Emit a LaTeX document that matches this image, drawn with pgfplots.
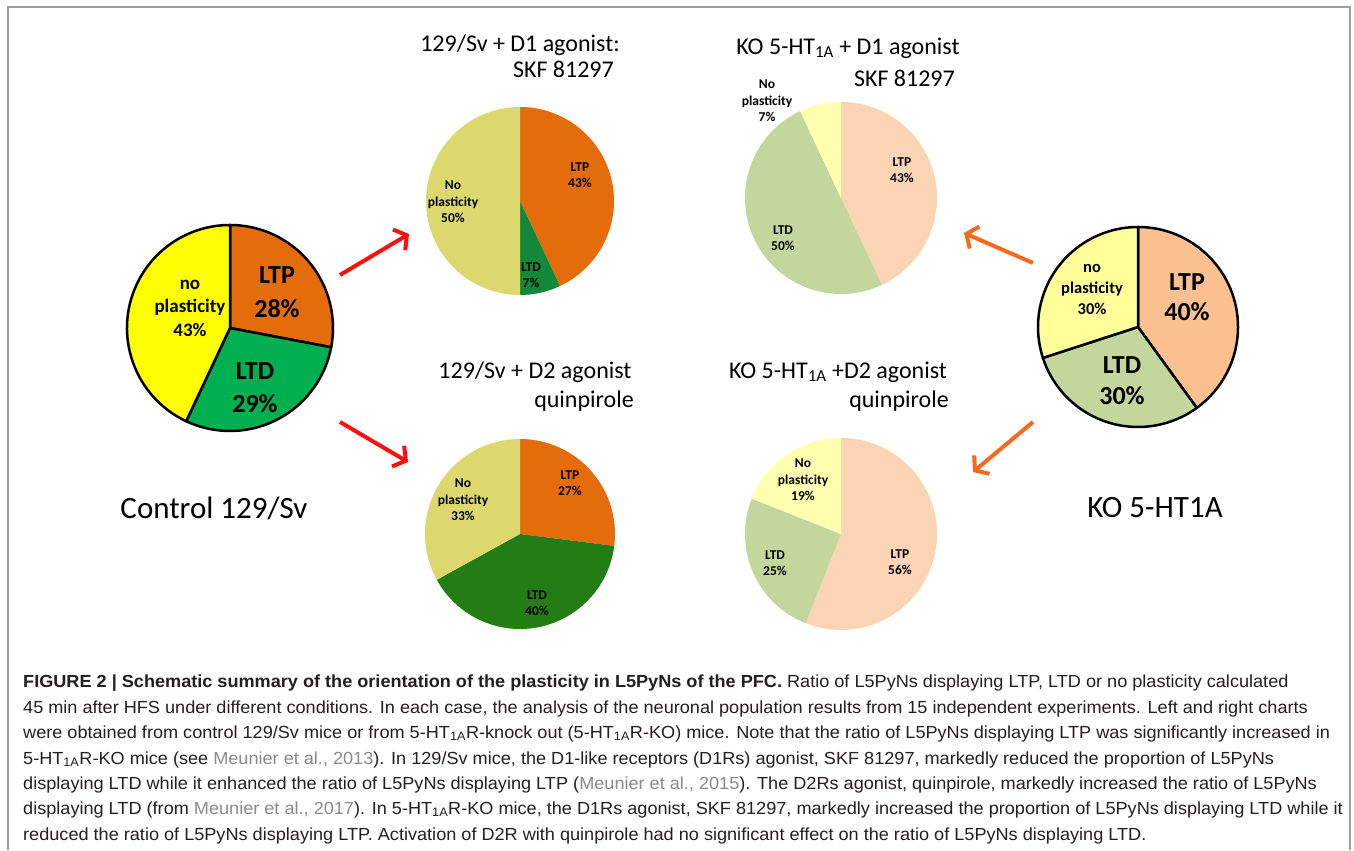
\documentclass[border=0pt]{standalone}
\usepackage{fontspec}
\setmainfont{Carlito}
\newfontfamily\capfont[FakeStretch=1.035]{Liberation Sans}
\usepackage{pgfplots}
\pgfplotsset{compat=1.18}
\usepackage{pgfplotstable}
\usetikzlibrary{arrows.meta}

\definecolor{cLTP}{HTML}{E46C0A}
\definecolor{cLTD}{HTML}{00B050}
\definecolor{cNO}{HTML}{FFFF00}
\definecolor{dLTDa}{HTML}{14883A}
\definecolor{dLTDb}{HTML}{237C14}
\definecolor{dNO}{HTML}{DCD86E}
\definecolor{kLTP}{HTML}{FAC090}
\definecolor{kLTD}{HTML}{C3D69B}
\definecolor{kNO}{HTML}{FFFF99}
\definecolor{kLTPb}{HTML}{FBD4B4}
\definecolor{kNOb}{HTML}{FFFFAF}
\definecolor{redarrow}{HTML}{FF1010}
\definecolor{orarrow}{HTML}{F76A1E}
\definecolor{cite}{HTML}{8A8A8A}
\definecolor{captext}{HTML}{231F20}

% pie data: share in %, colour; slices clockwise from 12 o'clock
\pgfplotstableread{
val col
28 cLTP
29 cLTD
43 cNO
}\tabCtrl
\pgfplotstableread{
val col
43 cLTP
7 dLTDa
50 dNO
}\tabDone
\pgfplotstableread{
val col
27 cLTP
40 dLTDb
33 dNO
}\tabDtwo
\pgfplotstableread{
val col
40 kLTP
30 kLTD
30 kNO
}\tabKO
\pgfplotstableread{
val col
43 kLTPb
50 kLTD
7 kNOb
}\tabKOone
\pgfplotstableread{
val col
56 kLTPb
25 kLTD
19 kNOb
}\tabKOtwo

\newcommand\drawpie[3]{%
  \pgfplotstablegetrowsof{#1}%
  \pgfmathtruncatemacro\pienrows{\pgfplotsretval-1}%
  \def\piecum{0}%
  \pgfplotsforeachungrouped \pieidx in {0,...,\pienrows}{%
    \pgfplotstablegetelem{\pieidx}{val}\of{#1}\let\pieval\pgfplotsretval
    \pgfplotstablegetelem{\pieidx}{col}\of{#1}\let\piecol\pgfplotsretval
    \pgfmathsetmacro\piea{90-3.6*\piecum}%
    \pgfmathsetmacro\pieb{90-3.6*(\piecum+\pieval)}%
    \edef\pietmp{\noexpand\filldraw[fill=\piecol,#3] (axis cs:0,0) -- ++(\piea:#2pt) arc[start angle=\piea,end angle=\pieb,radius=#2pt] -- cycle;}%
    \pietmp
    \pgfmathsetmacro\piecum{\piecum+\pieval}%
  }%
}
\pgfplotsset{pie/.style={scale only axis, hide axis, xmin=-1, xmax=1, ymin=-1, ymax=1, anchor=origin, clip=false}}

\begin{document}
\begin{tikzpicture}[x=1pt,y=1pt]
\fill[white] (0,0) rectangle (1354,850);
\draw[gray!75, line width=1.5pt] (8,0) -- (8,843) -- (1350,843) -- (1350,0);

% pies
\begin{axis}[pie, at={(230pt,522pt)}, width=206pt, height=206pt]
\drawpie{\tabCtrl}{103}{draw=black, line width=2.5pt, line join=round}
\end{axis}
\begin{axis}[pie, at={(520pt,649pt)}, width=188pt, height=188pt]
\drawpie{\tabDone}{94}{draw=none}
\end{axis}
\begin{axis}[pie, at={(520pt,316pt)}, width=190pt, height=190pt]
\drawpie{\tabDtwo}{95}{draw=none}
\end{axis}
\begin{axis}[pie, at={(841pt,652pt)}, width=192pt, height=192pt]
\drawpie{\tabKOone}{96}{draw=none}
\end{axis}
\begin{axis}[pie, at={(841pt,316pt)}, width=192pt, height=192pt]
\drawpie{\tabKOtwo}{96}{draw=none}
\end{axis}
\begin{axis}[pie, at={(1138pt,523pt)}, width=200pt, height=200pt]
\drawpie{\tabKO}{100}{draw=black, line width=2.5pt, line join=round}
\end{axis}

% pie labels
\begin{scope}[every node/.style={align=center, inner sep=0pt, font=\bfseries}]
\node[font=\bfseries\fontsize{26}{34}\selectfont] at (277,558) {LTP\\28\%};
\node[font=\bfseries\fontsize{26}{33}\selectfont] at (255,462) {LTD\\29\%};
\node[font=\bfseries\fontsize{19}{23.5}\selectfont] at (190,542) {no\\plasticity\\43\%};
\node[font=\bfseries\fontsize{26}{30}\selectfont] at (1187,553) {LTP\\40\%};
\node[font=\bfseries\fontsize{26}{31}\selectfont] at (1122,469) {LTD\\30\%};
\node[font=\bfseries\fontsize{16.5}{21}\selectfont] at (1092,560) {no\\plasticity\\30\%};
\begin{scope}[every node/.append style={font=\bfseries\fontsize{13.5}{16.5}\selectfont}]
\node at (453,648) {No\\plasticity\\50\%};
\node at (580,675) {LTP\\43\%};
\node at (531,575) {LTD\\7\%};
\node at (767,749) {No\\plasticity\\7\%};
\node at (902,680) {LTP\\43\%};
\node at (783,612) {LTD\\50\%};
\node at (463,350) {No\\plasticity\\33\%};
\node at (570,367) {LTP\\27\%};
\node at (537,247) {LTD\\40\%};
\node at (803,370) {No\\plasticity\\19\%};
\node at (775,287) {LTD\\25\%};
\node at (900,288) {LTP\\56\%};
\end{scope}
\end{scope}

% titles
\begin{scope}[every node/.style={inner sep=0pt, font=\fontsize{24}{28}\selectfont}]
\node[anchor=center] at (520,805) {129/Sv + D1 agonist:};
\node[anchor=east] at (614,781) {SKF 81297};
\node[anchor=center] at (848,802) {KO 5-HT\textsubscript{1A} + D1 agonist};
\node[anchor=east] at (955,772) {SKF 81297};
\node[anchor=center] at (535,478) {129/Sv + D2 agonist};
\node[anchor=east] at (634,449) {quinpirole};
\node[anchor=center] at (838,478) {KO 5-HT\textsubscript{1A} +D2 agonist};
\node[anchor=east] at (949,449) {quinpirole};
\end{scope}
\node[inner sep=0pt, font=\fontsize{31}{36}\selectfont] at (214,342) {Control 129/Sv};
\node[inner sep=0pt, font=\fontsize{31}{36}\selectfont] at (1155,342) {KO 5-HT1A};

% arrows
\draw[redarrow, line width=4pt, -{Straight Barb[length=9pt,width=24pt]}] (340,575) -- (409,616);
\draw[redarrow, line width=4pt, -{Straight Barb[length=9pt,width=24pt]}] (340,428) -- (408,388);
\draw[orarrow, line width=4pt, -{Straight Barb[length=9pt,width=24pt]}] (1033,587) -- (964,617);
\draw[orarrow, line width=4pt, -{Straight Barb[length=9pt,width=24pt]}] (1033,428) -- (973,378);

% caption
\begin{scope}[every node/.style={anchor=mid west, inner sep=0pt, text=captext, font=\capfont\fontsize{17.5}{20}\selectfont}]
\node at (23,165) {\textbf{FIGURE 2 | Schematic summary of the orientation of the plasticity in L5PyNs of the PFC.} Ratio of L5PyNs displaying LTP, LTD or no plasticity calculated};
\node at (23,139) {45 min after HFS under different conditions. In each case, the analysis of the neuronal population results from 15 independent experiments. Left and right charts};
\node at (23,114) {were obtained from control 129/Sv mice or from 5-HT\textsubscript{1A}R-knock out (5-HT\textsubscript{1A}R-KO) mice. Note that the ratio of L5PyNs displaying LTP was significantly increased in};
\node at (23,88) {5-HT\textsubscript{1A}R-KO mice (see {\color{cite}Meunier et al., 2013}). In 129/Sv mice, the D1-like receptors (D1Rs) agonist, SKF 81297, markedly reduced the proportion of L5PyNs};
\node at (23,63) {displaying LTD while it enhanced the ratio of L5PyNs displaying LTP ({\color{cite}Meunier et al., 2015}). The D2Rs agonist, quinpirole, markedly increased the ratio of L5PyNs};
\node at (23,38) {displaying LTD (from {\color{cite}Meunier et al., 2017}). In 5-HT\textsubscript{1A}R-KO mice, the D1Rs agonist, SKF 81297, markedly increased the proportion of L5PyNs displaying LTD while it};
\node at (23,12) {reduced the ratio of L5PyNs displaying LTP. Activation of D2R with quinpirole had no significant effect on the ratio of L5PyNs displaying LTD.};
\end{scope}
\end{tikzpicture}
\end{document}
